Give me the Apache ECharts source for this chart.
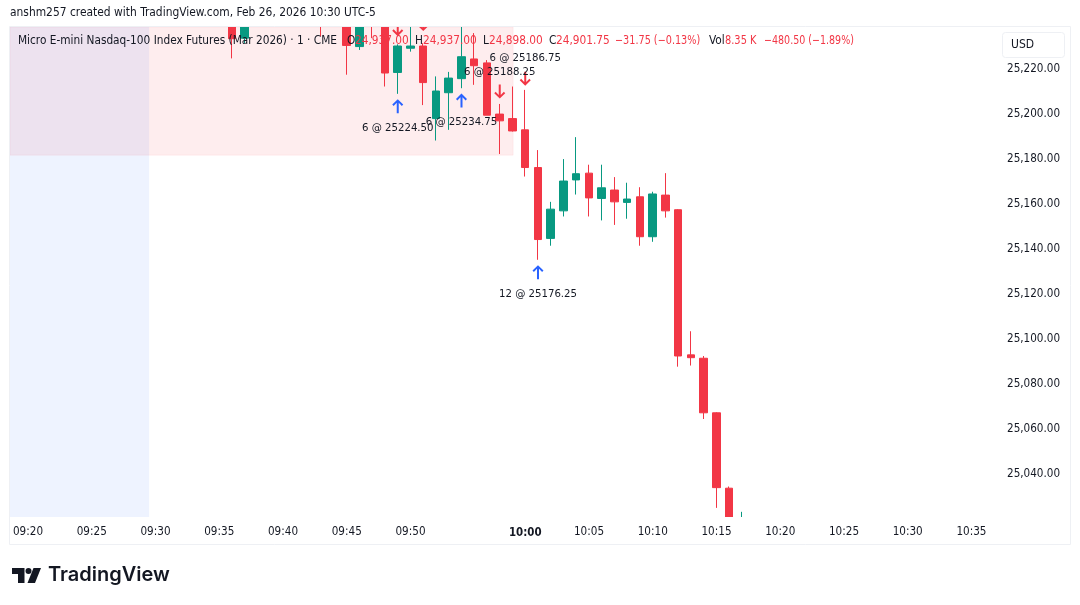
<!DOCTYPE html>
<html>
<head>
<meta charset="utf-8">
<script src="https://cdn.jsdelivr.net/npm/echarts@6/dist/echarts.min.js"></script>
<style>
  html, body { margin: 0; padding: 0; background: #fff; }
  #chart { width: 1080px; height: 605px; }
</style>
</head>
<body>
<div id="chart"></div>
<script>
// bars are numbered by chart slot, 09:20 = 0, one slot per minute (one bar missing before 10:00)
var slots  = [16, 17, 23, 25, 26, 27, 28, 29, 30, 31, 32, 33, 34, 35, 36, 37, 38, 39, 40, 41, 42, 43, 44, 45, 46, 47, 48, 49, 50, 51, 52, 53, 54, 55, 56];
var opens  = [25245, 25233.25, 25243, 25246, 25229.5, 25244, 25246, 25218, 25228.75, 25229.75, 25197.5, 25209, 25215.25, 25224, 25222.25, 25199.5, 25197.5, 25192.5, 25175.75, 25144.25, 25156.5, 25170.25, 25173.25, 25162, 25165.75, 25160.25, 25162.75, 25145, 25163.5, 25157, 25092.5, 25091, 25066.75, 25033.25, 25012];
var closes = [25233, 25241, 25240, 25230, 25241, 25241, 25217.75, 25229.75, 25229.75, 25213.5, 25209.75, 25215.5, 25225, 25221, 25199, 25196.5, 25192, 25175.75, 25143.75, 25157.25, 25169.75, 25173, 25162.25, 25166.75, 25160.5, 25161.75, 25145, 25164, 25156.5, 25092, 25091.25, 25066.75, 25033.5, 25018, 25016];
var lows   = [25224.25, 25231, 25234, 25217, 25228, 25233.25, 25211.75, 25208.5, 25227.25, 25203.5, 25187.75, 25192.5, 25211, 25212.5, 25199, 25181.75, 25191.75, 25171.75, 25134.75, 25141, 25154, 25163.75, 25154, 25152.25, 25150.25, 25153, 25141, 25142.75, 25153.5, 25087.25, 25087.75, 25064, 25024.5, 25016, 25010];
var highs  = [25248, 25243, 25246, 25248, 25244, 25246, 25247, 25230.5, 25240, 25231, 25216.25, 25218.25, 25240, 25235.5, 25223.5, 25204, 25211.75, 25210.25, 25183.5, 25160.5, 25179.5, 25189.25, 25177, 25177, 25171.5, 25169, 25167, 25165, 25173.25, 25157.25, 25103, 25092, 25067, 25034, 25022.75];

var timeSlots  = [0, 5, 10, 15, 20, 25, 30, 39, 44, 49, 54, 59, 64, 69, 74];
var timeLabels = ['09:20', '09:25', '09:30', '09:35', '09:40', '09:45', '09:50', '10:00', '10:05', '10:10', '10:15', '10:20', '10:25', '10:30', '10:35'];
var priceTicks = [25040, 25060, 25080, 25100, 25120, 25140, 25160, 25180, 25200, 25220];

// trade markers: slot and the price level the arrow sits at
var buySlots   = [29, 34, 40];
var buyLevels  = [25203, 25205.5, 25129.25];
var sellSlots  = [29, 31, 37, 39];
var sellLevels = [25237.25, 25239.5, 25209.5, 25215.25];

var tradeTexts  = ['6 @ 25224.50', '6 @ 25234.75', '6 @ 25186.75', '6 @ 25188.25', '12 @ 25176.25'];
var tradeSlots  = [29, 34, 39, 37, 40];
var tradeLevels = [25193.25, 25195.75, 25224.5, 25218.25, 25119.5];

// shaded sessions
var pinkZone = [25181.25, 38.05];
var blueZone = [9.5];

var xMin = -1.412, xMax = 76.08;
var yMin = 25020.45, yMax = 25238.2;

var RED = '#F23645', GREEN = '#089981', BLUE = '#2962FF', INK = '#131722';
var FONT = '"DejaVu Sans Condensed", "DejaVu Sans", sans-serif';

var upPath = 'path://M4.5 14 H6.5 V3.6 L9.6 6.8 L11 5.4 L5.5 0 L0 5.4 L1.4 6.8 L4.5 3.6 Z';
var downPath = 'path://M4.5 0 H6.5 V10.4 L9.6 7.2 L11 8.6 L5.5 14 L0 8.6 L1.4 7.2 L4.5 10.4 Z';

function zip(a, b) {
  return a.map(function (v, i) { return [v, b[i]]; });
}

var candleData = slots.map(function (s, i) {
  return [s, opens[i], closes[i], lows[i], highs[i]];
});

// legend row over the chart, [text, x, colour, horizontal squeeze]
var legendRow = [
  ['Micro E-mini Nasdaq-100 Index Futures (Mar 2026) · 1 · CME', 18, INK, 1],
  ['O', 347, INK, 1], ['24,937.00', 355, RED, 1],
  ['H', 415, INK, 1], ['24,937.00', 423, RED, 1],
  ['L', 483, INK, 1], ['24,898.00', 489, RED, 1],
  ['C', 549, INK, 1], ['24,901.75', 556, RED, 1],
  ['−31.75 (−0.13%)', 615, RED, 0.915],
  ['Vol', 709, INK, 1], ['8.35 K', 725, RED, 0.93],
  ['−480.50 (−1.89%)', 764, RED, 0.9]
];

var graphics = [
  // candles are only dropped when fully outside the grid, so cover the overhang
  { type: 'rect', z: 50, shape: { x: 0, y: 0, width: 1080, height: 27 }, style: { fill: '#fff' } },
  { type: 'rect', z: 50, shape: { x: 10, y: 517, width: 988, height: 27 }, style: { fill: '#fff' } },
  { type: 'rect', z: 51, shape: { x: 9.5, y: 26.5, width: 1061, height: 518 }, style: { fill: 'none', stroke: '#EEF0F4', lineWidth: 1 } },
  { type: 'text', z: 52, x: 10, y: 13, style: { text: 'anshm257 created with TradingView.com, Feb 26, 2026 10:30 UTC-5', font: '11.9px ' + FONT, fill: INK, textVerticalAlign: 'middle' } },
  { type: 'rect', z: 52, shape: { x: 1002.5, y: 32.5, width: 62, height: 25, r: 3 }, style: { fill: '#fff', stroke: '#EEF0F4', lineWidth: 1 } },
  { type: 'text', z: 53, x: 1011, y: 45, style: { text: 'USD', font: '12px ' + FONT, fill: INK, textVerticalAlign: 'middle' } },
  // logo
  { type: 'polygon', z: 52, shape: { points: [[12, 568], [24.5, 568], [24.5, 583], [18, 583], [18, 574], [12, 574]] }, style: { fill: INK } },
  { type: 'circle', z: 52, shape: { cx: 28.5, cy: 571, r: 3 }, style: { fill: INK } },
  { type: 'polygon', z: 52, shape: { points: [[33.5, 568], [41, 568], [35, 583], [27.5, 583]] }, style: { fill: INK } },
  { type: 'text', z: 52, x: 48, y: 575, style: { text: 'TradingView', font: '600 20px Inter, Roboto, sans-serif', fill: INK, textVerticalAlign: 'middle' } }
];
legendRow.forEach(function (item) {
  graphics.push({ type: 'text', z: 60, x: item[1], y: 41, scaleX: item[3], style: { text: item[0], font: '11.75px ' + FONT, fill: item[2], textVerticalAlign: 'middle' } });
});

var chart = echarts.init(document.getElementById('chart'), null, { renderer: 'canvas' });
chart.setOption({
  animation: false,
  backgroundColor: '#fff',
  grid: { left: 10, right: 82, top: 27, bottom: 88, containLabel: false },
  xAxis: {
    type: 'value',
    z: 100,
    min: xMin,
    max: xMax,
    splitLine: { show: false },
    axisLine: { show: false },
    axisTick: { show: false },
    axisLabel: {
      customValues: timeSlots,
      margin: 9,
      color: INK,
      fontFamily: FONT,
      fontSize: 11.6,
      formatter: function (v) {
        var t = timeLabels[timeSlots.indexOf(v)];
        return t === '10:00' ? '{b|' + t + '}' : t;
      },
      rich: { b: { fontWeight: 'bold', fontFamily: FONT, fontSize: 11.4, color: INK, padding: [2, 0, 0, 0] } }
    }
  },
  yAxis: {
    type: 'value',
    position: 'right',
    min: yMin,
    max: yMax,
    splitLine: { show: false },
    axisLine: { show: false },
    axisTick: { show: false },
    axisLabel: {
      customValues: priceTicks,
      margin: 9,
      color: INK,
      fontFamily: FONT,
      fontSize: 11.6,
      formatter: function (v) {
        return '{p|' + v.toLocaleString('en-US', { minimumFractionDigits: 2, maximumFractionDigits: 2 }) + '}';
      },
      rich: { p: { fontFamily: FONT, fontSize: 11.6, color: INK, padding: [2, 0, 0, 0] } }
    }
  },
  series: [
    {
      type: 'line',
      z: 1,
      data: [],
      silent: true,
      markArea: {
        silent: true,
        data: [
          [{ xAxis: xMin, yAxis: yMax, itemStyle: { color: 'rgba(242,54,69,0.09)', borderColor: 'rgba(242,54,69,0.06)', borderWidth: 1 } }, { xAxis: pinkZone[1], yAxis: pinkZone[0] }],
          [{ xAxis: xMin, yAxis: yMax, itemStyle: { color: 'rgba(41,98,255,0.08)' } }, { xAxis: blueZone[0], yAxis: yMin }]
        ]
      }
    },
    {
      type: 'candlestick',
      z: 3,
      barWidth: 8,
      encode: { x: 0, y: [1, 2, 3, 4] },
      data: candleData,
      itemStyle: { color: GREEN, color0: RED, borderColor: GREEN, borderColor0: RED, borderWidth: 1 }
    },
    {
      type: 'scatter',
      z: 4,
      clip: false,
      symbol: upPath,
      symbolSize: [11, 14],
      itemStyle: { color: BLUE, opacity: 1 },
      data: zip(buySlots, buyLevels)
    },
    {
      type: 'scatter',
      z: 4,
      clip: false,
      symbol: downPath,
      symbolSize: [11, 14],
      itemStyle: { color: RED, opacity: 1 },
      data: zip(sellSlots, sellLevels)
    },
    {
      type: 'scatter',
      z: 5,
      symbolSize: 0,
      itemStyle: { opacity: 1 },
      data: tradeSlots.map(function (s, i) {
        return { value: [s, tradeLevels[i]], name: tradeTexts[i] };
      }),
      label: {
        show: true,
        position: 'inside',
        formatter: '{b}',
        color: INK,
        fontFamily: FONT,
        fontSize: 11.3
      }
    }
  ],
  graphic: { elements: graphics }
});
</script>
</body>
</html>
